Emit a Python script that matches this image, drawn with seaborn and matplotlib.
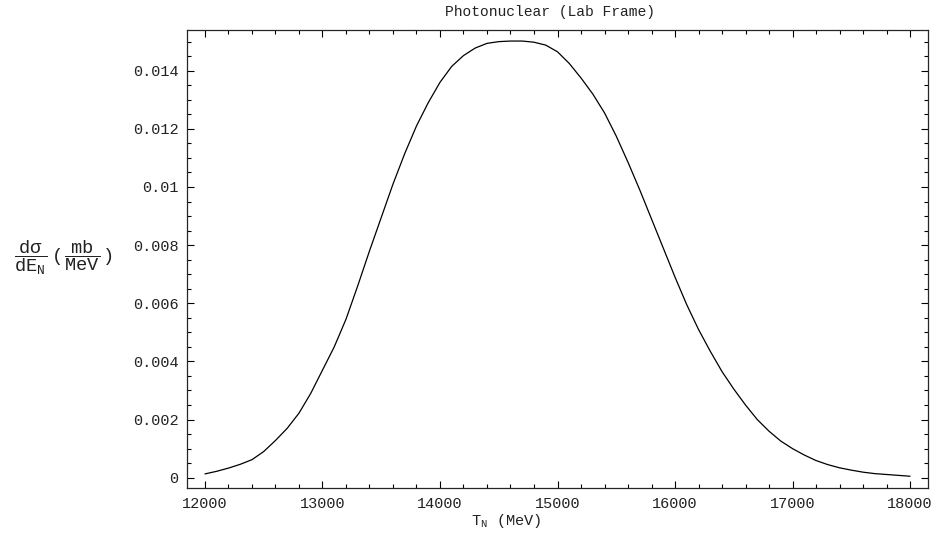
import matplotlib
matplotlib.use("Agg")
import matplotlib.pyplot as plt
import seaborn as sns
import pandas as pd
from matplotlib.ticker import MultipleLocator, FuncFormatter

T_N = [12000, 12100, 12200, 12300, 12400, 12500, 12600, 12700, 12800, 12900,
       13000, 13100, 13200, 13300, 13400, 13500, 13600, 13700, 13800, 13900,
       14000, 14100, 14200, 14300, 14400, 14500, 14600, 14700, 14800, 14900,
       15000, 15100, 15200, 15300, 15400, 15500, 15600, 15700, 15800, 15900,
       16000, 16100, 16200, 16300, 16400, 16500, 16600, 16700, 16800, 16900,
       17000, 17100, 17200, 17300, 17400, 17500, 17600, 17700, 17800, 17900, 18000]
dsigma = [0.00013, 0.00022, 0.00033, 0.00046, 0.00062, 0.00090, 0.00128, 0.00170, 0.00222, 0.00290,
          0.00370, 0.00450, 0.00545, 0.00660, 0.00780, 0.00895, 0.01010, 0.01115, 0.01210, 0.01290,
          0.01360, 0.01415, 0.01452, 0.01478, 0.01494, 0.01500, 0.01502, 0.01502, 0.01498, 0.01488,
          0.01465, 0.01425, 0.01375, 0.01320, 0.01255, 0.01175, 0.01085, 0.00990, 0.00890, 0.00790,
          0.00690, 0.00595, 0.00510, 0.00435, 0.00365, 0.00305, 0.00250, 0.00200, 0.00160, 0.00126,
          0.00100, 0.00078, 0.00059, 0.00045, 0.00034, 0.00026, 0.00019, 0.00014, 0.00011, 0.00008, 0.00005]
x_ticks = [12000, 13000, 14000, 15000, 16000, 17000, 18000]
y_ticks = [0, 0.002, 0.004, 0.006, 0.008, 0.01, 0.012, 0.014]
title = "Photonuclear (Lab Frame)"

sns.set_style("ticks")
plt.rcParams['font.family'] = ['Liberation Mono', 'DejaVu Sans']
plt.rcParams['mathtext.fontset'] = 'custom'
plt.rcParams['mathtext.rm'] = 'Liberation Mono'
plt.rcParams['mathtext.it'] = 'Liberation Mono'
plt.rcParams['mathtext.sf'] = 'Liberation Mono'

df = pd.DataFrame({"T": T_N, "v": dsigma})

fig = plt.figure(figsize=(9.38, 5.37), dpi=100)
ax = fig.add_axes([187/938, 1-488.3/537, (928-187)/938, (488.3-30)/537])
sns.lineplot(data=df, x="T", y="v", ax=ax, color="black", linewidth=0.9)

ax.set_xlim(11847, 18153)
ax.set_ylim(-0.000365, 0.0154)
ax.set_xticks(x_ticks)
ax.set_yticks(y_ticks)
ax.xaxis.set_minor_locator(MultipleLocator(200))
ax.yaxis.set_minor_locator(MultipleLocator(0.0005))
ax.yaxis.set_major_formatter(FuncFormatter(lambda v, p: ("%g" % round(v, 6))))
ax.set_xlabel("")
ax.set_ylabel("")
for s in ax.spines.values():
    s.set_visible(True)
    s.set_linewidth(0.9)
ax.tick_params(which='both', direction='in', top=True, right=True, labelsize=11, width=0.8,
               color='black', labelcolor='#222222')
ax.tick_params(which='major', length=5, pad=6)
ax.tick_params(which='minor', length=3)

fig.text(550/938, 1-12/537, title, ha='center', va='center', fontsize=10.5, color='#222222')
fig.text(506/938, 1-521/537, r'$\mathrm{T_N}$ (MeV)', ha='center', va='center', fontsize=11, color='#222222')
fig.text(63.5/938, 1-258/537,
         r'$\dfrac{\mathrm{d}\sigma}{\mathrm{dE_N}}\ (\,\dfrac{\mathrm{mb}}{\mathrm{MeV}}\,)$',
         ha='center', va='center', fontsize=13.5, color='#222222')

fig.savefig("out.png", dpi=100)
